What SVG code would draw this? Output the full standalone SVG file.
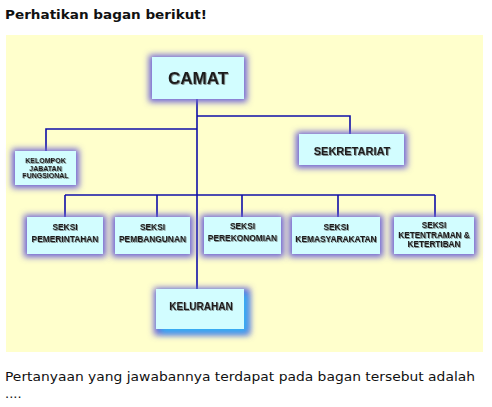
<svg xmlns="http://www.w3.org/2000/svg" width="492" height="407" viewBox="0 0 492 407">
<style>
.box{fill:#d2fdff;}
.glow{fill:#6a5fd6;filter:url(#blur);}
.lbl{font-family:"Liberation Sans",Arial,sans-serif;font-weight:bold;fill:#1e1e1e;text-anchor:middle;filter:url(#ts);}
.ln{stroke:#1010a8;stroke-width:1.6;fill:none;}
.pg{font-family:"DejaVu Sans",Verdana,sans-serif;font-size:13px;fill:#111;}
</style>
<defs>
<filter id="blur" x="-30%" y="-40%" width="160%" height="180%"><feGaussianBlur stdDeviation="3"/></filter>
<filter id="ts" x="-10%" y="-30%" width="130%" height="170%"><feDropShadow dx="0.8" dy="0.8" stdDeviation="0.7" flood-color="#555" flood-opacity="0.8"/></filter>
</defs>
<text class="pg" x="5" y="19" font-weight="bold" textLength="202" lengthAdjust="spacingAndGlyphs">Perhatikan bagan berikut!</text>
<rect x="6" y="35" width="477" height="317" fill="#ffffcc"/>
<g id="connectors">
<path class="ln" d="M197 99 V289"/>
<path class="ln" d="M197 116 H350 V134"/>
<path class="ln" d="M197 129 H46 V151"/>
<path class="ln" d="M65 195 H435"/>
<path class="ln" d="M65 195 V217 M157 195 V217 M242 195 V217 M338 195 V217 M435 195 V217"/>
</g>
<g id="camat">
<rect class="glow" x="149" y="55" width="98" height="47"/>
<rect class="box" x="152" y="57" width="92" height="42"/>
<text class="lbl" x="198" y="84" font-size="17">CAMAT</text>
</g>
<g id="sekretariat">
<rect class="glow" x="296" y="132" width="111" height="36"/>
<rect class="box" x="299" y="134" width="105" height="31"/>
<text class="lbl" x="352" y="155" font-size="11">SEKRETARIAT</text>
</g>
<g id="kelompok">
<rect class="glow" x="12" y="149" width="67" height="39"/>
<rect class="box" x="15" y="151" width="61" height="34"/>
<text class="lbl" font-size="7"><tspan x="45.5" y="163">KELOMPOK</tspan><tspan x="45.5" y="170.5">JABATAN</tspan><tspan x="45.5" y="178">FUNGSIONAL</tspan></text>
</g>
<g id="seksi-pemerintahan">
<rect class="glow" x="24" y="215" width="82" height="42"/>
<rect class="box" x="27" y="217" width="76" height="37"/>
<text class="lbl" font-size="8.4"><tspan x="65" y="230">SEKSI</tspan><tspan x="65" y="242">PEMERINTAHAN</tspan></text>
</g>
<g id="seksi-pembangunan">
<rect class="glow" x="112" y="215" width="81" height="42"/>
<rect class="box" x="115" y="217" width="75" height="37"/>
<text class="lbl" font-size="8.4"><tspan x="152.5" y="230">SEKSI</tspan><tspan x="152.5" y="242">PEMBANGUNAN</tspan></text>
</g>
<g id="seksi-perekonomian">
<rect class="glow" x="201" y="215" width="83" height="42"/>
<rect class="box" x="204" y="217" width="77" height="37"/>
<text class="lbl" font-size="8.4"><tspan x="242.5" y="229">SEKSI</tspan><tspan x="242.5" y="241">PEREKONOMIAN</tspan></text>
</g>
<g id="seksi-kemasyarakatan">
<rect class="glow" x="289" y="215" width="94" height="42"/>
<rect class="box" x="292" y="217" width="88" height="37"/>
<text class="lbl" font-size="8.4"><tspan x="336" y="230">SEKSI</tspan><tspan x="336" y="242">KEMASYARAKATAN</tspan></text>
</g>
<g id="seksi-ketentraman">
<rect class="glow" x="391" y="215" width="86" height="42"/>
<rect class="box" x="394" y="217" width="80" height="37"/>
<text class="lbl" font-size="8.2"><tspan x="434" y="228">SEKSI</tspan><tspan x="434" y="237.5">KETENTRAMAN &amp;</tspan><tspan x="434" y="247">KETERTIBAN</tspan></text>
</g>
<g id="kelurahan">
<rect class="glow" x="154" y="288" width="96" height="47"/>
<rect x="160" y="293" width="88" height="40" fill="#22c8ff" filter="url(#blur)" opacity="0.8"/>
<rect class="box" x="156" y="289" width="88" height="40"/>
<text class="lbl" x="201" y="310" font-size="10">KELURAHAN</text>
</g>
<text class="pg" x="5" y="381" textLength="470" lengthAdjust="spacingAndGlyphs">Pertanyaan yang jawabannya terdapat pada bagan tersebut adalah</text>
<text class="pg" x="5" y="398">....</text>
</svg>
